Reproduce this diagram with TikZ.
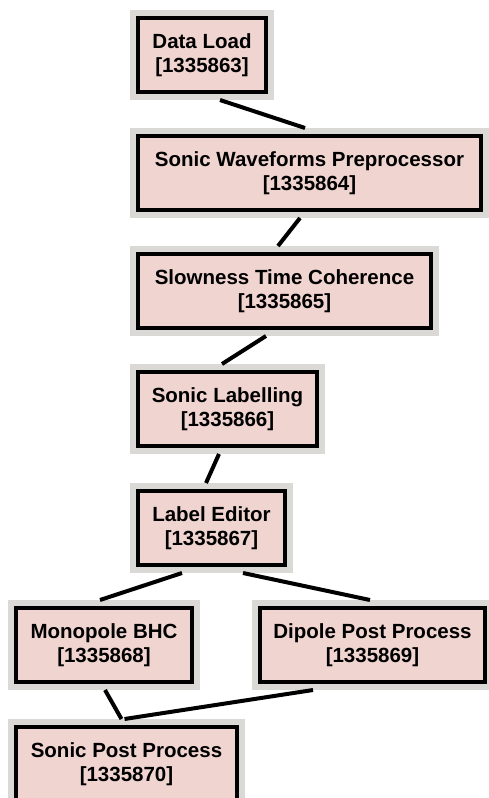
\documentclass[tikz,border=0pt]{standalone}
\usepackage{fontspec}
\setmainfont{Liberation Sans}
\definecolor{boxfill}{RGB}{240,212,208}
\definecolor{framegray}{RGB}{218,217,214}
\begin{document}
\begin{tikzpicture}[x=1pt,y=-1pt,
  box/.style={rectangle, draw=black, line width=4pt, fill=boxfill,
    preaction={draw=framegray, line width=16pt},
    minimum height=74pt, inner sep=0pt, outer sep=8pt, align=center,
    font=\fontsize{20.5}{24}\selectfont\bfseries},
  link/.style={line width=4pt, draw=black}]
\useasboundingbox[fill=white] (0,0) rectangle (488,798);
\node[box, minimum width=128pt] (dl) at (202,55) {Data Load\\ {[1335863]}};
\node[box, minimum width=343pt] (sw) at (309.5,173) {Sonic Waveforms Preprocessor\\ {[1335864]}};
\node[box, minimum width=293pt] (stc) at (284.5,291) {Slowness Time Coherence\\ {[1335865]}};
\node[box, minimum width=179pt] (sl) at (227.5,409) {Sonic Labelling\\ {[1335866]}};
\node[box, minimum width=147pt] (le) at (211.5,528) {Label Editor\\ {[1335867]}};
\node[box, minimum width=176pt] (mb) at (104,645) {Monopole BHC\\ {[1335868]}};
\node[box, minimum width=225pt] (dp) at (372.5,645) {Dipole Post Process\\ {[1335869]}};
\node[box, minimum width=221pt] (sp) at (126.5,764) {Sonic Post Process\\ {[1335870]}};
\draw[link] ([xshift=18pt]dl.south) -- ([xshift=-4.5pt]sw.north);
\draw[link] ([xshift=-9.5pt]sw.south) -- ([xshift=-6.5pt]stc.north);
\draw[link] ([xshift=-18.5pt]stc.south) -- ([xshift=-5.5pt]sl.north);
\draw[link] ([xshift=-8.5pt]sl.south) -- ([xshift=-5.5pt]le.north);
\draw[link] ([xshift=-29.5pt]le.south) -- ([xshift=-4pt]mb.north);
\draw[link] ([xshift=31.5pt]le.south) -- ([xshift=-2.5pt]dp.north);
\draw[link] ([xshift=1pt]mb.south) -- ([xshift=-5pt]sp.north);
\draw[link] ([xshift=-59.5pt]dp.south) -- ([xshift=-2pt]sp.north);
\end{tikzpicture}
\end{document}
